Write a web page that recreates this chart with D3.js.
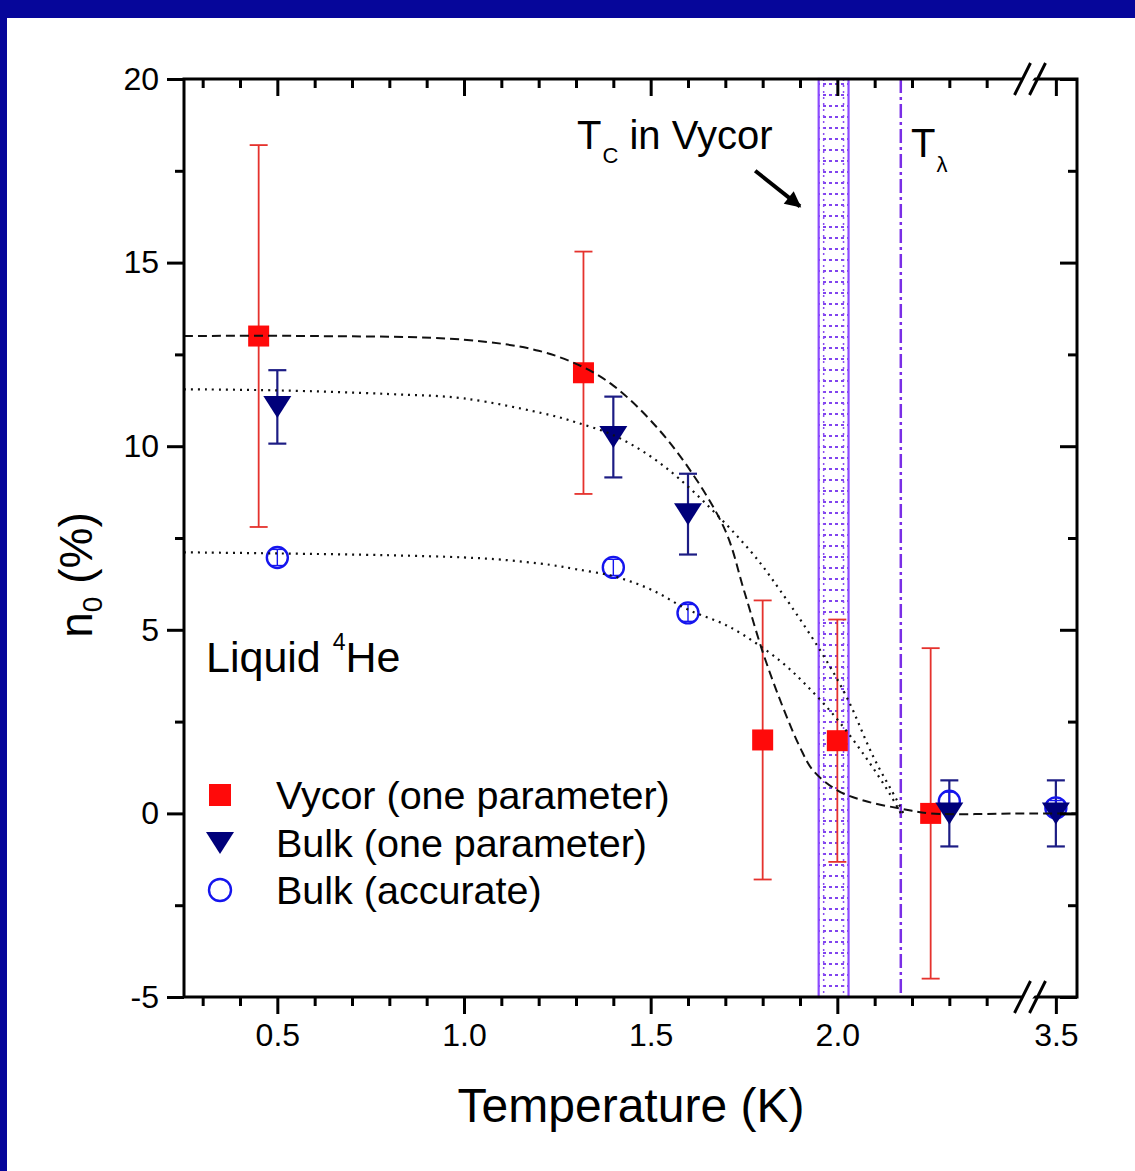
<!DOCTYPE html>
<html><head><meta charset="utf-8">
<script src="https://cdn.jsdelivr.net/npm/d3@7/dist/d3.min.js"></script>
<style>
html,body{margin:0;padding:0;background:#fff;overflow:hidden;}
svg{display:block;font-family:"Liberation Sans",Arial,sans-serif;}
</style></head>
<body>
<svg id="chart" width="1135" height="1171"></svg>
<script>
// ---------- data ----------
const vycorT   = [0.45, 1.32, 1.80, 2.00, 2.25];
const vycorN   = [13.0, 12.0, 2.0, 1.98, 0.0];
const vycorErr = [5.2, 3.3, 3.8, 3.3, 4.5];

const bulkT    = [0.50, 1.40, 1.60, 2.30, 3.50];
const bulkN    = [11.07, 10.25, 8.15, 0.0, 0.0];
const bulkErr  = [1.0, 1.1, 1.1, 0.9, 0.9];

const accT     = [0.50, 1.40, 1.60, 2.30, 3.50];
const accN     = [6.97, 6.70, 5.46, 0.33, 0.15];
const accErr   = [0.22, 0.22, 0.23, 0.25, 0.2];

// fitted curves
const fitVycorT = [0.25, 0.6, 1.0, 1.2, 1.32, 1.4, 1.5, 1.6, 1.7, 1.75, 1.8, 1.85, 1.9, 1.935, 2.0, 2.07, 2.17, 2.25, 2.5, 3.45, 3.556];
const fitVycorN = [13.0, 13.0, 12.9, 12.6, 12.15, 11.65, 10.7, 9.43, 7.7, 6.07, 4.4, 3.0, 1.8, 1.17, 0.63, 0.35, 0.13, 0.0, 0.0, 0.0, 0.0];
const fitBulkT  = [0.25, 0.5, 0.8, 1.0, 1.23, 1.3, 1.4, 1.5, 1.6, 1.766, 1.847, 1.954, 2.025, 2.097, 2.16, 2.177];
const fitBulkN  = [11.55, 11.52, 11.42, 11.3, 10.85, 10.65, 10.3, 9.72, 8.9, 7.16, 6.07, 4.44, 3.17, 1.53, 0.35, 0.0];
const fitAccT   = [0.25, 0.5, 0.8, 1.0, 1.1, 1.23, 1.3, 1.4, 1.5, 1.6, 1.713, 1.847, 1.937, 2.007, 2.078, 2.14, 2.17];
const fitAccN   = [7.11, 7.08, 7.03, 6.97, 6.91, 6.77, 6.65, 6.46, 6.1, 5.55, 5.07, 4.15, 3.28, 2.47, 1.5, 0.54, 0.0];

const xMajor = [0.5, 1.0, 1.5, 2.0, 3.5];
const xMajorLabels = ["0.5", "1.0", "1.5", "2.0", "3.5"];
const xMinor = [0.3, 0.4, 0.6, 0.7, 0.8, 0.9, 1.1, 1.2, 1.3, 1.4, 1.6, 1.7, 1.8, 1.9, 2.1, 2.2, 2.3, 2.4];
const yMajor = [-5, 0, 5, 10, 15, 20];
const yMajorLabels = ["-5", "0", "5", "10", "15", "20"];
const yMinor = [-2.5, 2.5, 7.5, 12.5, 17.5];

const tcBand = [1.95, 2.03];
const tLambda = 2.17;
const arrowFrom = [1.78, 17.5], arrowTo = [1.90, 16.53];

const legendNames = ["Vycor (one parameter)", "Bulk (one parameter)", "Bulk (accurate)"];

// ---------- layout ----------
const L = 184, R = 1077, T = 79, B = 997;
const svg = d3.select("#chart");

// page frame (slide background strips)
svg.append("rect").attr("x",0).attr("y",0).attr("width",1135).attr("height",18).attr("fill","#06069a");
svg.append("rect").attr("x",0).attr("y",0).attr("width",7).attr("height",1171).attr("fill","#06069a");

const x = d3.scaleLinear().domain([0.25, 2.5, 3.45, 3.556]).range([L, 1024, 1037, R]);
const y = d3.scaleLinear().domain([-5, 20]).range([B, T]);

// pattern for Tc band
const defs = svg.append("defs");
const pat = defs.append("pattern").attr("id","dots").attr("patternUnits","userSpaceOnUse")
  .attr("width",6).attr("height",11).attr("x",0).attr("y",y(20)+4);
pat.append("rect").attr("x",1).attr("y",0).attr("width",3).attr("height",2).attr("fill","#8043ee");

// Tc band
const bx0 = x(tcBand[0]), bx1 = x(tcBand[1]);
svg.append("rect").attr("x",bx0).attr("y",T).attr("width",bx1-bx0).attr("height",B-T)
  .attr("fill","url(#dots)").attr("stroke","#8c4bff").attr("stroke-width",2.2);
[bx0+5, bx1-5].forEach(xx=>{
  svg.append("line").attr("x1",xx).attr("x2",xx).attr("y1",T).attr("y2",B)
    .attr("stroke","#8a4cf0").attr("stroke-width",1.5).attr("stroke-dasharray","2,4");
});

// T lambda line
svg.append("line").attr("x1",x(tLambda)).attr("x2",x(tLambda)).attr("y1",T).attr("y2",B)
  .attr("stroke","#7a2ee6").attr("stroke-width",2.5).attr("stroke-dasharray","14,4,3,4");

// ---------- error bars & markers ----------
function errBars(ts, ns, es, color, cap, w){
  const g = svg.append("g").attr("stroke",color).attr("stroke-width",w).attr("fill","none");
  ts.forEach((t,i)=>{
    const cx = x(t), y1 = y(ns[i]+es[i]), y2 = y(ns[i]-es[i]);
    g.append("line").attr("x1",cx).attr("x2",cx).attr("y1",y1).attr("y2",y2);
    g.append("line").attr("x1",cx-cap/2).attr("x2",cx+cap/2).attr("y1",y1).attr("y2",y1);
    g.append("line").attr("x1",cx-cap/2).attr("x2",cx+cap/2).attr("y1",y2).attr("y2",y2);
  });
}
errBars(vycorT, vycorN, vycorErr, "#e5322d", 18, 1.8);
errBars(bulkT, bulkN, bulkErr, "#1c1c84", 18, 2.2);

const tri = "M-14,-11 L14,-11 L0,11 Z";
// circles
svg.append("g").selectAll("circle").data(accT).join("circle")
  .attr("cx",(d)=>x(d)).attr("cy",(d,i)=>y(accN[i])).attr("r",10.5)
  .attr("fill","none").attr("stroke","#1515ee").attr("stroke-width",2.4);
errBars(accT, accN, accErr, "#1515ee", 12, 1.4);

svg.append("g").selectAll("rect").data(vycorT).join("rect")
  .attr("x",(d)=>x(d)-10.5).attr("y",(d,i)=>y(vycorN[i])-10.5).attr("width",21).attr("height",21)
  .attr("fill","#ff0a0a");
svg.append("g").selectAll("path").data(bulkT).join("path")
  .attr("d",tri).attr("transform",(d,i)=>`translate(${x(d)},${y(bulkN[i])})`)
  .attr("fill","#00007a");

// ---------- fit curves ----------
const line = (ts, ns) => d3.line().x(d=>x(d)).y((d,i)=>y(ns[i])).curve(d3.curveCatmullRom.alpha(0.5))(ts);
svg.append("path").attr("d",line(fitVycorT, fitVycorN)).attr("fill","none")
  .attr("stroke","#111").attr("stroke-width",2).attr("stroke-dasharray","9,5");
svg.append("path").attr("d",line(fitBulkT, fitBulkN)).attr("fill","none")
  .attr("stroke","#111").attr("stroke-width",2.2).attr("stroke-dasharray","2,5");
svg.append("path").attr("d",line(fitAccT, fitAccN)).attr("fill","none")
  .attr("stroke","#111").attr("stroke-width",2.2).attr("stroke-dasharray","2,5");

// ---------- axes ----------
const axisW = 3;
function styleAxis(g){
  g.select(".domain").remove();
  g.selectAll(".tick line").attr("stroke","#000").attr("stroke-width",axisW);
  g.selectAll("text").attr("fill","#000").attr("font-size",32).attr("font-family","Liberation Sans, Arial, sans-serif");
}
// bottom
const gB = svg.append("g").attr("transform",`translate(0,${B})`);
gB.append("g").call(d3.axisBottom(x).tickValues(xMinor).tickSize(9).tickFormat("")).call(styleAxis);
gB.append("g").call(d3.axisBottom(x).tickValues(xMajor).tickSize(17).tickPadding(9)
  .tickFormat((d,i)=>xMajorLabels[i])).call(styleAxis);
// top (inward)
const gT = svg.append("g").attr("transform",`translate(0,${T})`);
gT.append("g").call(d3.axisBottom(x).tickValues(xMinor).tickSize(9).tickFormat("")).call(styleAxis);
gT.append("g").call(d3.axisBottom(x).tickValues(xMajor).tickSize(17).tickFormat("")).call(styleAxis);
// left
const gL = svg.append("g").attr("transform",`translate(${L},0)`);
gL.append("g").call(d3.axisLeft(y).tickValues(yMinor).tickSize(9).tickFormat("")).call(styleAxis);
gL.append("g").call(d3.axisLeft(y).tickValues(yMajor).tickSize(17).tickPadding(8)
  .tickFormat((d,i)=>yMajorLabels[i])).call(styleAxis);
// right (inward)
const gR = svg.append("g").attr("transform",`translate(${R},0)`);
gR.append("g").call(d3.axisLeft(y).tickValues(yMinor).tickSize(9).tickFormat("")).call(styleAxis);
gR.append("g").call(d3.axisLeft(y).tickValues(yMajor).tickSize(17).tickFormat("")).call(styleAxis);

// frame lines
svg.append("rect").attr("x",L).attr("y",T).attr("width",R-L).attr("height",B-T)
  .attr("fill","none").attr("stroke","#000").attr("stroke-width",axisW);

// axis break marks
const brk = (x(2.5)+x(3.45))/2;
[T, B].forEach(yy=>{
  svg.append("path").attr("d",`M${brk-14},${yy+8} L${brk-2},${yy-8} L${brk+9},${yy-8} L${brk-3},${yy+8} Z`)
    .attr("fill","#fff");
  [-8, 7].forEach(off=>{
    svg.append("line").attr("x1",brk+off-8).attr("y1",yy+16).attr("x2",brk+off+8).attr("y2",yy-16)
      .attr("stroke","#000").attr("stroke-width",3);
  });
});

// ---------- annotations ----------
const ann = svg.append("g").attr("fill","#000");
// Tc in Vycor
const tc = ann.append("text").attr("x",577).attr("y",149).attr("font-size",40);
tc.append("tspan").text("T");
tc.append("tspan").attr("font-size",22).attr("dy",14).attr("dx",1).text("C");
tc.append("tspan").attr("dy",-14).attr("dx",0).text(" in Vycor");
// arrow
defs.append("marker").attr("id","ah").attr("viewBox","0 0 10 10").attr("refX",9).attr("refY",5)
  .attr("markerWidth",5).attr("markerHeight",4).attr("orient","auto").attr("markerUnits","strokeWidth")
  .append("path").attr("d","M0,0 L10,5 L0,10 Z").attr("fill","#000");
svg.append("line").attr("x1",x(arrowFrom[0])).attr("y1",y(arrowFrom[1]))
  .attr("x2",x(arrowTo[0])).attr("y2",y(arrowTo[1]))
  .attr("stroke","#000").attr("stroke-width",4).attr("marker-end","url(#ah)");
// T lambda
const tl = ann.append("text").attr("x",911).attr("y",157).attr("font-size",40);
tl.append("tspan").text("T");
tl.append("tspan").attr("font-size",22).attr("dy",15).attr("dx",1).text("λ");
// Liquid 4He
const lq = ann.append("text").attr("x",206).attr("y",672).attr("font-size",43);
lq.append("tspan").text("Liquid ");
lq.append("tspan").attr("font-size",23).attr("dy",-22).text("4");
lq.append("tspan").attr("dy",22).text("He");

// ---------- legend ----------
const lgY = [795, 843, 890];
const lg = svg.append("g");
lg.append("rect").attr("x",209).attr("y",lgY[0]-11).attr("width",22).attr("height",22).attr("fill","#ff0a0a");
lg.append("path").attr("d",tri).attr("transform",`translate(220,${lgY[1]})`).attr("fill","#00007a");
lg.append("circle").attr("cx",220).attr("cy",lgY[2]).attr("r",11).attr("fill","none").attr("stroke","#1515ee").attr("stroke-width",2.4);
legendNames.forEach((n,i)=>{
  lg.append("text").attr("x",276).attr("y",lgY[i]+14).attr("font-size",39.5).attr("fill","#000").text(n);
});

// ---------- axis titles ----------
svg.append("text").attr("x",631).attr("y",1122).attr("text-anchor","middle").attr("font-size",48).text("Temperature (K)");
const yt = svg.append("text").attr("transform","translate(92,575) rotate(-90)").attr("text-anchor","middle").attr("font-size",46);
yt.append("tspan").text("n");
yt.append("tspan").attr("font-size",28).attr("dy",10).text("0");
yt.append("tspan").attr("dy",-10).text(" (%)");
</script>
</body></html>
